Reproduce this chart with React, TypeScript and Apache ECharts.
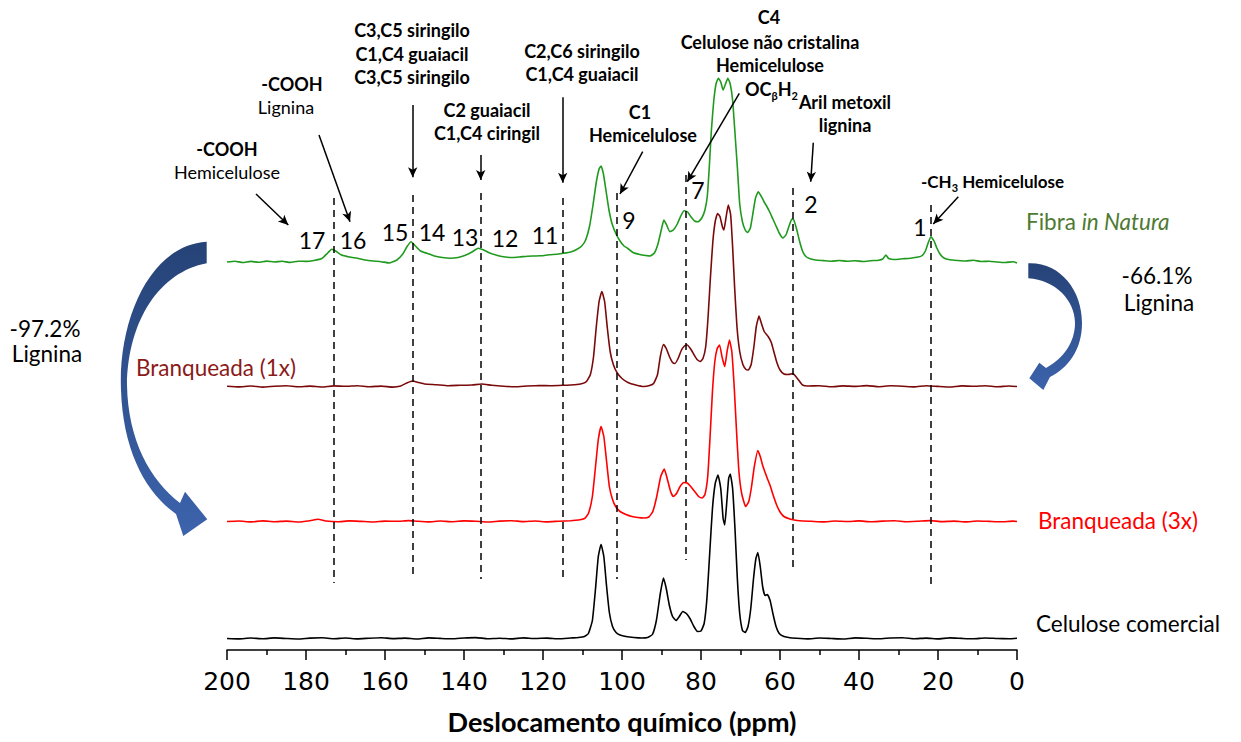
import React, { useEffect, useRef } from "react";
import * as echarts from "echarts";

// ---- Data: [ppm, intensity above own baseline] ----
const fibraInNatura: number[][] = [
  [200, 0], [198, 0.8], [196, -0.5], [194, 0.6], [192, -0.3], [190, 0.9], [188, 0], [186, 0.7], [184, -0.4], [182, 0.8],
  [180, 0.6], [178, 1.5], [176, 3.5], [174.5, 9], [173.5, 12.7], [172.5, 11], [171, 7], [169, 5], [167, 3.7], [165, 2],
  [163, 1], [161, 0.3], [159, -1], [157, 2], [155.5, 8], [154.5, 15], [153.4, 20.3], [152.3, 16], [151, 11], [149.4, 8.7],
  [147.5, 6], [145.5, 4.5], [143.5, 3.7], [141.5, 4.5], [139.5, 7], [138, 10], [136.4, 13.7], [135, 12], [133.5, 9], [131.5, 6.5],
  [130, 5.3], [128, 4.5], [126, 5], [124, 5.8], [122.4, 6], [120.5, 6.2], [118.5, 7.2], [116.5, 7.8], [114.8, 8.7], [113, 10],
  [111.5, 12.5], [110.2, 16], [109.2, 22], [108.2, 36], [107.3, 58], [106.5, 80], [105.8, 93], [105.3, 96], [104.7, 88], [104, 70],
  [103.3, 52], [102.5, 38], [101.5, 28], [100.5, 21], [99.5, 16], [98.5, 13.5], [97.2, 9.5], [95.5, 7.5], [94, 6.5], [92.9, 6],
  [91.8, 9], [90.9, 18], [90, 33], [89.4, 42], [88.7, 37], [87.9, 30.3], [87, 32], [86, 38], [85, 47], [84.3, 51.3],
  [83.4, 50], [82.5, 45], [81.6, 41], [80.7, 40.3], [79.8, 44], [79, 52], [78.4, 66], [77.9, 95], [77.4, 130], [76.8, 160],
  [76.2, 178], [75.6, 183.7], [75, 180], [74.4, 172], [73.8, 178], [73.2, 183.7], [72.6, 178], [72, 162], [71.4, 129], [70.8, 95],
  [70.2, 58], [69.5, 40], [68.8, 32], [68.2, 29.5], [67.5, 34], [66.8, 50], [66.2, 64], [65.5, 70.3], [64.8, 66], [64, 60],
  [63.4, 56], [62.6, 50], [61.8, 43], [61, 36], [60.2, 29], [59.3, 24], [58.5, 27], [57.7, 36], [57, 43], [56.5, 42],
  [55.8, 33], [55, 20], [54.2, 10], [53.3, 5], [52.2, 3], [51, 2], [49, 1.4], [47, 0.8], [45, 1.5], [43, 0.7],
  [41, 1.2], [39, 0.5], [37, 1.3], [35, 1.8], [34, 3], [33.2, 7], [32.5, 3.5], [31, 2.5], [29, 3.2], [27, 3.8],
  [25, 5], [24, 6.5], [23.2, 11], [22.5, 19], [21.8, 25.3], [21, 21], [20.3, 14], [19.5, 8], [18.5, 4], [17, 2.2],
  [15, 1.5], [13, 1], [11, 1.8], [9, 0.5], [7, 0.8], [5, 0], [3, -0.5], [1, 0.3], [0, -1],
];

const branqueada1x: number[][] = [
  [200, 0.3], [197, -0.4], [194, 0.5], [191, -0.6], [188, 0.2], [185, 0.7], [182, -0.3], [179, 0.4], [176, -0.5], [173, 0.6],
  [170, 0.2], [167, 0.8], [164, -0.2], [161, 0.4], [158, -0.6], [156, 0.5], [154.5, 3.5], [153, 5.5], [151.5, 4], [150, 2.5],
  [147, 1.8], [144, 0.8], [141, 1.2], [138, 1.5], [135.5, 2.5], [133, 1.2], [130, 0.2], [127, -0.3], [124, 0.5], [121, 1],
  [118, 0.8], [115, 1.2], [112, 1.8], [110, 3], [109, 5], [108, 12], [107.2, 30], [106.5, 60], [105.8, 85], [105.1, 95],
  [104.4, 85], [103.7, 58], [103, 35], [102.2, 22], [101.2, 13.5], [100, 8], [98.5, 4], [96.5, 1.5], [94.5, 0], [93, 1],
  [92, 3], [91, 12], [90.3, 30], [89.5, 42], [88.8, 38], [88, 30], [87.2, 24], [86.6, 23], [85.8, 28], [85, 36],
  [84.2, 40.5], [83.5, 41.5], [82.7, 38], [81.8, 32], [81, 27], [80.2, 25], [79.5, 28], [78.8, 40], [78.2, 70], [77.6, 110],
  [77, 145], [76.4, 165], [75.8, 173], [75.2, 170], [74.6, 160], [74.2, 156.5], [73.7, 168], [73.1, 181.5], [72.5, 172], [72, 140],
  [71.5, 100], [70.9, 60], [70.2, 35], [69.4, 22], [68.6, 17], [68, 16.5], [67.3, 22], [66.6, 40], [66, 60], [65.3, 70.5],
  [64.7, 63], [64, 55], [63, 50], [62.2, 44], [61.5, 34], [60.8, 24], [60, 16.5], [59, 12.5], [58, 12], [57.2, 12.5],
  [56.7, 13], [56, 10], [55.2, 6], [54.3, 1.5], [53, 0.5], [50, 0.8], [47, -0.3], [44, 0.6], [41, 0.1], [38, 0.9],
  [35, -0.2], [32, 0.7], [29, 0.3], [26, -0.4], [23, 0.8], [20, 0.1], [17, -0.5], [14, 0.6], [11, 0.2], [8, 0.8],
  [5, -0.3], [2, 0.5], [0, 0],
];

const branqueada3x: number[][] = [
  [200, 0], [197, 0.5], [194, -0.4], [191, 0.6], [188, -0.2], [185, 0.4], [182, -0.5], [179, 0.8], [177, 2.2], [175, 0.5],
  [172, -0.3], [169, 0.6], [166, 0.1], [163, -0.5], [160, 0.4], [157, 0.2], [154, 0.9], [152, 0.3], [149, -0.4], [146, 0.5],
  [143, -0.2], [140, 0.6], [137, 0.2], [134, -0.5], [131, 0.4], [128, 0.8], [125, -0.1], [122, 0.5], [119, -0.4], [116, 0.3],
  [113, 0.8], [111, 1.5], [109.5, 3], [108.5, 8], [107.5, 25], [106.7, 55], [106, 82], [105.3, 95], [104.6, 85], [103.9, 60],
  [103.2, 35], [102.4, 22], [101.6, 15], [100.5, 10], [99, 7], [97.5, 5], [96, 4], [94.5, 3.5], [93.2, 4.5], [92.2, 10],
  [91.2, 25], [90.2, 45], [89.3, 52.5], [88.5, 42], [87.7, 30], [87, 25], [86.2, 28], [85.3, 35], [84.3, 39], [83.5, 38.5],
  [82.6, 35], [81.6, 30], [80.6, 25], [79.7, 23.5], [79, 27], [78.3, 45], [77.7, 85], [77.1, 130], [76.5, 160], [75.9, 173],
  [75.3, 176.5], [74.7, 165], [74, 155], [73.4, 170], [72.8, 181.5], [72.2, 170], [71.6, 135], [71, 90], [70.4, 50], [69.7, 28],
  [68.7, 15], [67.9, 20], [67.2, 35], [66.5, 55], [65.6, 71], [65, 65], [64.3, 55], [63.2, 43], [62.5, 36], [61.7, 26],
  [60.8, 16], [59.9, 9], [59, 5], [57.5, 2.5], [56.4, 1.5], [55, 0.8], [52, 0.2], [49, -0.4], [46, 0.5], [43, 0],
  [40, 0.6], [37, -0.3], [34, 0.4], [31, 0.8], [28, -0.2], [25, 0.3], [22, 0.9], [19, -0.1], [16, 0.4], [13, -0.4],
  [10, 0.5], [7, 0.1], [4, -0.3], [1, 0.4], [0, 0],
];

const celuloseComercial: number[][] = [
  [200, 0], [197, -0.4], [194, 0.5], [191, -0.3], [188, 0.6], [185, 0], [182, -0.5], [179, 0.4], [176, 0.7], [173, -0.2],
  [170, 0.5], [167, -0.4], [164, 0.3], [161, 0.8], [158, -0.1], [155, 0.4], [152, -0.5], [149, 0.6], [146, 0.1], [143, -0.3],
  [140, 0.5], [137, 0.9], [134, -0.2], [131, 0.3], [128, -0.4], [125, 0.6], [122, 0], [119, 0.4], [116, -0.3], [113, 0.5],
  [111, 1], [109.5, 2], [108.5, 5], [107.5, 18], [106.7, 50], [106, 82], [105.3, 94], [104.6, 82], [103.9, 52], [103.2, 26],
  [102.4, 12], [101.5, 6], [100.5, 3.5], [99, 2], [97, 1], [95, 0.5], [93.5, 1], [92.3, 4], [91.3, 18], [90.3, 45],
  [89.5, 60.5], [88.8, 50], [88, 33], [87.2, 22], [86.3, 18], [85.5, 22], [84.6, 27], [83.7, 25], [82.8, 20], [81.8, 12],
  [80.9, 7], [80, 7.5], [79.2, 15], [78.5, 40], [77.8, 85], [77.1, 130], [76.4, 155], [75.7, 163.5], [75, 150], [74.4, 120],
  [74, 113.5], [73.5, 135], [73, 160], [72.6, 164.5], [72, 150], [71.4, 110], [70.8, 60], [70.2, 25], [69.5, 8], [68.8, 6],
  [68.1, 12], [67.4, 30], [66.7, 60], [66.1, 80], [65.6, 86], [65, 72], [64.4, 52], [63.8, 43], [63.2, 44], [62.5, 38],
  [61.8, 25], [61, 12], [60.2, 5], [59, 2], [57.5, 0.8], [56, 0.3], [53, -0.4], [50, 0.5], [47, 0], [44, -0.5],
  [41, 0.6], [38, 0.2], [35, -0.3], [32, 0.5], [29, 0.8], [26, -0.2], [23, 0.4], [20, -0.4], [17, 0.6], [14, 0.1],
  [11, -0.3], [8, 0.5], [5, 0], [2, -0.2], [0, 0.3],
];

// stacking offsets of each spectrum (vertical stack)
const stackOffsets = [388, 263.5, 128.5, 11.5];
const seriesNames = ["Fibra in Natura", "Branqueada (1x)", "Branqueada (3x)", "Celulose comercial"];
// assigned peak positions (ppm) for the dashed guide lines
const peakPpm = [173.1, 153, 135.8, 115, 101.3, 83.8, 56.8, 21.8];

// ---- Layout (annotations) ----
const guideSpan: number[][] = [
  [452, 67], [455, 71], [457, 71], [452, 68], [457, 71], [475, 90], [462, 78], [445, 61],
];
const arrows: number[][][] = [
  [[192.66, 456], [184.48, 425]],
  [[176.71, 515], [168.86, 428.3]],
  [[152.99, 545], [152.99, 472.7]],
  [[135.77, 495], [135.77, 470]],
  [[115.01, 552.7], [115.01, 467.3]],
  [[94.76, 498.3], [100.51, 456]],
  [[70.3, 556.7], [83.47, 468.3]],
  [[51.57, 507.3], [52.23, 468.3]],
  [[14.86, 453.3], [21.19, 426]],
];

const FONT = "Lato, 'Open Sans', 'DejaVu Sans', sans-serif";

const boldNotes: [string, number, number, boolean][] = [
  ["-COOH", 227, 149, true], ["Hemicelulose", 227, 172, false],
  ["-COOH", 292, 84, true], ["Lignina", 286, 107, false],
  ["C3,C5 siringilo", 412, 30, true], ["C1,C4 guaiacil", 412, 54, true], ["C3,C5 siringilo", 412, 77, true],
  ["C2 guaiacil", 487, 110, true], ["C1,C4 ciringil", 487, 133, true],
  ["C2,C6 siringilo", 582, 51, true], ["C1,C4 guaiacil", 582, 74, true],
  ["C1", 640, 112, true], ["Hemicelulose", 643, 135, true],
  ["C4", 769, 17, true], ["Celulose não cristalina", 770, 42, true], ["Hemicelulose", 770, 65, true],
  ["Aril metoxil", 845, 102, true], ["lignina", 845, 125, true],
];
const peakNumbers: [string, number, number][] = [
  ["17", 312, 240], ["16", 353, 240], ["15", 395, 232], ["14", 432, 232], ["13", 465, 237],
  ["12", 505, 238], ["11", 545, 235], ["9", 629, 220], ["7", 698, 190], ["2", 811, 204], ["1", 920, 227],
];

const leftArrowPath =
  "M206.7 241.7 C150 245 118 320 121 390 C123 450 145 492 176 514 L183.3 536 L207.3 519.3 L185 491.7 L180 503 C150 480 128 440 127 385 C128 320 160 272 206.7 263.3 Z";
const rightArrowPath =
  "M1028.3 263.3 C1060 262 1082 290 1082 323 C1082 350 1068 368 1050 377 L1043.3 390 L1029.3 378.3 L1039.3 362.7 L1046 368 C1064 358 1075 342 1075 323 C1075 300 1055 280 1028.3 278.3 Z";

echarts.graphic.registerShape("arrowLeft", echarts.graphic.extendPath(leftArrowPath, {}));
echarts.graphic.registerShape("arrowRight", echarts.graphic.extendPath(rightArrowPath, {}));

export default function App() {
  const ref = useRef<HTMLDivElement>(null);
  useEffect(() => {
    if (!ref.current) return;
    const chart = echarts.init(ref.current, null, { renderer: "svg" });
    const spectra = [fibraInNatura, branqueada1x, branqueada3x, celuloseComercial];
    const colors = ["#1F9A1F", "#7A0A0A", "#FF0000", "#000000"];
    const blueGrad = () =>
      new echarts.graphic.LinearGradient(0, 0, 0, 1, [
        { offset: 0, color: "#264377" },
        { offset: 1, color: "#3C63AC" },
      ]);

    const series: any[] = spectra.map((s, i) => ({
      name: seriesNames[i],
      type: "line",
      data: s.map((p) => [p[0], p[1] + stackOffsets[i]]),
      showSymbol: false,
      symbol: "none",
      smooth: 0.15,
      lineStyle: { color: colors[i], width: 1.6 },
      z: 3,
      silent: true,
    }));
    series.push({
      type: "line",
      data: [],
      silent: true,
      markLine: {
        silent: true,
        symbol: ["none", "none"],
        label: { show: false },
        lineStyle: { color: "#000", width: 1.5, type: [7, 5] },
        data: peakPpm.map((p, i) => [
          { coord: [p, guideSpan[i][0]] },
          { coord: [p, guideSpan[i][1]] },
        ]),
      },
    });
    series.push({
      type: "line",
      data: [],
      silent: true,
      markLine: {
        silent: true,
        symbol: ["none", "arrow"],
        symbolSize: [7, 10],
        label: { show: false },
        lineStyle: { color: "#000", width: 1.5, type: "solid" },
        data: arrows.map((a) => [{ coord: a[0] }, { coord: a[1] }]),
      },
    });

    const texts: any[] = [];
    boldNotes.forEach(([t, x, y, b]) =>
      texts.push({
        type: "text", x, y, silent: true,
        style: { text: t, fill: "#000", font: `${b ? "bold " : ""}18px ${FONT}`, align: "center", verticalAlign: "middle" },
      })
    );
    peakNumbers.forEach(([t, x, y]) =>
      texts.push({
        type: "text", x, y, silent: true,
        style: { text: t, fill: "#000", font: `23px ${FONT}`, align: "center", verticalAlign: "middle" },
      })
    );
    texts.push({
      type: "text", x: 745, y: 89, silent: true,
      style: {
        text: "{m|OC}{s|β}{m|H}{s|2}", align: "left", verticalAlign: "middle",
        rich: {
          m: { font: `bold 18px ${FONT}`, fill: "#000", lineHeight: 24, verticalAlign: "middle" },
          s: { font: `bold 11px ${FONT}`, fill: "#000", lineHeight: 11, verticalAlign: "bottom" },
        },
      },
    });
    texts.push({
      type: "text", x: 921, y: 181, silent: true,
      style: {
        text: "{m|-CH}{s|3}{m| Hemicelulose}", align: "left", verticalAlign: "middle",
        rich: {
          m: { font: `bold 17px ${FONT}`, fill: "#000", lineHeight: 24, verticalAlign: "middle" },
          s: { font: `bold 11px ${FONT}`, fill: "#000", lineHeight: 11, verticalAlign: "bottom" },
        },
      },
    });
    const lbl = (t: string, x: number, y: number, fill: string, align = "left") => ({
      type: "text", x, y, silent: true,
      style: { text: t, fill, font: `22.5px ${FONT}`, align, verticalAlign: "middle" },
    });
    texts.push({
      type: "text", x: 1026, y: 221, silent: true,
      style: {
        text: "{n|Fibra }{i|in Natura}", align: "left", verticalAlign: "middle",
        rich: {
          n: { font: `22.5px ${FONT}`, fill: "#4E7A34" },
          i: { font: `italic 22.5px ${FONT}`, fill: "#4E7A34" },
        },
      },
    });
    texts.push(lbl("Branqueada (1x)", 136, 367, "#8B1A1A"));
    texts.push(lbl("Branqueada (3x)", 1038, 520, "#FF0000"));
    texts.push(lbl("Celulose comercial", 1036, 623, "#000000"));
    texts.push(lbl("-97.2%", 45, 328, "#000", "center"));
    texts.push(lbl("Lignina", 47, 353, "#000", "center"));
    texts.push(lbl("-66.1%", 1157, 275, "#000", "center"));
    texts.push(lbl("Lignina", 1159, 302, "#000", "center"));
    texts.push({ type: "arrowLeft", x: 0, y: 0, silent: true, style: { fill: blueGrad() } });
    texts.push({ type: "arrowRight", x: 0, y: 0, silent: true, style: { fill: blueGrad() } });

    chart.setOption({
      animation: false,
      backgroundColor: "#ffffff",
      grid: { left: 227, right: 224, top: 20, bottom: 92, containLabel: false },
      xAxis: {
        type: "value",
        inverse: true,
        min: 0,
        max: 200,
        interval: 20,
        axisLine: { show: true, lineStyle: { color: "#000", width: 1.5 } },
        axisTick: { show: true, inside: false, length: 10, lineStyle: { color: "#000", width: 1.5 } },
        minorTick: { show: true, splitNumber: 2, length: 5, lineStyle: { color: "#000", width: 1.5 } },
        splitLine: { show: false },
        axisLabel: {
          color: "#000",
          fontSize: 25,
          margin: 19,
          fontFamily: "'DejaVu Sans', 'Liberation Sans', sans-serif",
        },
        name: "Deslocamento químico (ppm)",
        nameLocation: "middle",
        nameGap: 58,
        nameTextStyle: { color: "#000", fontSize: 27, fontWeight: "bold", fontFamily: FONT },
      },
      yAxis: { type: "value", min: 0, max: 630, show: false },
      series,
      graphic: texts,
    });
    return () => chart.dispose();
  }, []);
  return (
    <div
      ref={ref}
      style={{ position: "absolute", left: 0, top: 0, width: 1241, height: 742, background: "#fff" }}
    />
  );
}
